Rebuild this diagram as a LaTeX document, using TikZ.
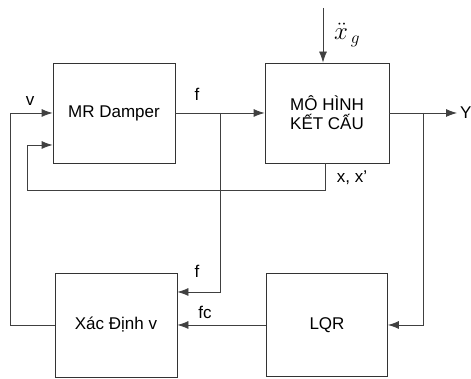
\documentclass[tikz,border=0pt]{standalone}
\usepackage{fontspec}
\setmainfont{Liberation Sans}
\usepackage{tikz}
\usetikzlibrary{arrows.meta,positioning,calc}

\begin{document}
\begin{tikzpicture}[
    x=1pt, y=1pt,
    font=\fontsize{17}{19}\selectfont,
    block/.style={rectangle, draw=black!80, line width=0.8pt, align=center, inner sep=0pt},
    arrow/.style={draw=black!75, line width=0.8pt, -{Latex[length=11pt,width=8pt]}},
    line/.style={draw=black!75, line width=0.8pt},
    lbl/.style={inner sep=1pt}
]
\useasboundingbox (0,0) rectangle (471,379);

\node [block, minimum width=122, minimum height=100] (mr) at (114,266) {MR Damper};
\node [block, minimum width=124, minimum height=100] (model) at (327,266) {MÔ HÌNH\\KẾT CẤU};
\node [block, minimum width=122, minimum height=104] (xac) at (116,54) {Xác Định v};
\node [block, minimum width=121, minimum height=103] (lqr) at (327,54) {LQR};

\coordinate (xg) at (323,371);
\coordinate (yout) at (457,266);
\coordinate (ytap) at (423,266);
\coordinate (ftap) at (220,266);
\coordinate (vleft) at (10,54);
\coordinate (fbleft) at (27,189);

% tin hieu vao
\draw [arrow] (xg) -- (xg |- model.north);
\node [lbl, anchor=west] (xglbl) at (333,344) {\fontsize{26}{26}\selectfont$\ddot{x}_{\,g}$};

% nhanh tren
\draw [arrow] (mr.east) -- (model.west);
\node [lbl] (flbl) at (197,285) {f};
\draw [arrow] (model.east) -- (yout);
\node [lbl, anchor=west] (ylbl) at (459,266) {Y};

% phan hoi
\draw [arrow] (ytap) |- (lqr.east);
\draw [arrow] (lqr.west) -- (xac.east);
\node [lbl] (fclbl) at (205,67) {fc};
\draw [arrow] (ftap) |- ($(xac.east)+(0,33)$);
\node [lbl] (f2lbl) at (197,108) {f};
\draw [arrow] (xac.west) -- (vleft) |- (mr.west);
\node [lbl] (vlbl) at (30,278) {v};
\draw [arrow] ($(model.south -| xg)+(2,0)$) |- (fbleft) |- ($(mr.west)+(0,-32)$);
\node [lbl] (xlbl) at (352,201) {x, x'};

\end{tikzpicture}
\end{document}
